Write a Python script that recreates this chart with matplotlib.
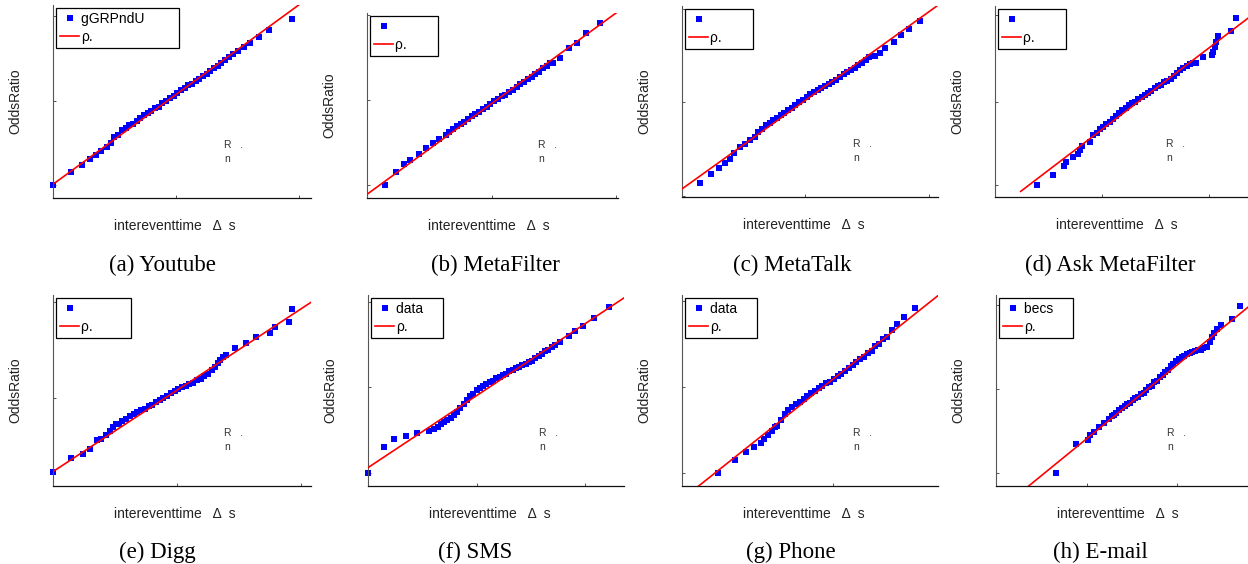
import matplotlib

matplotlib.use("Agg")
import matplotlib.pyplot as plt
from matplotlib.lines import Line2D

plt.rcParams["font.family"] = ["Liberation Sans", "DejaVu Sans"]

# ---- data: QQ points per panel (x in tick units, y in tick units) ----
qx_a = [0.0, 0.149, 0.238, 0.304, 0.352, 0.393, 0.439, 0.474,
        0.50, 0.53, 0.56, 0.59, 0.62, 0.65, 0.68, 0.71, 0.74, 0.77, 0.80,
        0.83, 0.86, 0.89, 0.92, 0.95, 0.98, 1.01, 1.04, 1.07, 1.10, 1.13,
        1.16, 1.19, 1.22, 1.25, 1.28, 1.31, 1.34, 1.37, 1.40, 1.43, 1.46,
        1.504, 1.553, 1.604, 1.675, 1.756, 1.94]
qy_a = [0.0, 0.158, 0.245, 0.312, 0.363, 0.406, 0.454, 0.50,
        0.57, 0.60, 0.65, 0.68, 0.71, 0.73, 0.76, 0.79, 0.83, 0.85, 0.88,
        0.91, 0.93, 0.97, 1.00, 1.03, 1.06, 1.09, 1.12, 1.15, 1.18, 1.20,
        1.23, 1.26, 1.29, 1.32, 1.35, 1.38, 1.41, 1.44, 1.48, 1.51, 1.55,
        1.59, 1.63, 1.68, 1.75, 1.83, 1.97]

qx_b = [0.147, 0.235, 0.297, 0.342, 0.417, 0.471, 0.529, 0.578, 0.631,
        0.66, 0.69, 0.72, 0.75, 0.78, 0.81, 0.84, 0.87, 0.90, 0.93, 0.96,
        0.99, 1.02, 1.05, 1.08, 1.11, 1.14, 1.17, 1.20, 1.23, 1.26, 1.29,
        1.32, 1.35, 1.38, 1.41, 1.44, 1.47,
        1.492, 1.545, 1.620, 1.687, 1.754, 1.866]
qy_b = [0.0, 0.149, 0.243, 0.294, 0.360, 0.43, 0.489, 0.536, 0.587,
        0.62, 0.66, 0.69, 0.71, 0.74, 0.77, 0.81, 0.83, 0.86, 0.89, 0.92,
        0.95, 0.98, 1.01, 1.04, 1.06, 1.09, 1.12, 1.15, 1.18, 1.21, 1.24,
        1.27, 1.30, 1.33, 1.37, 1.40, 1.43,
        1.429, 1.487, 1.605, 1.671, 1.781, 1.898]

qx_c = [0.149, 0.235, 0.30, 0.349, 0.386, 0.424, 0.473, 0.514, 0.554, 0.595,
        0.62, 0.65, 0.68, 0.71, 0.74, 0.77, 0.80, 0.83, 0.86, 0.89, 0.92,
        0.95, 0.98, 1.01, 1.04, 1.07, 1.10, 1.13, 1.16, 1.19, 1.22, 1.25,
        1.28, 1.31, 1.34, 1.37, 1.40, 1.43, 1.46, 1.49, 1.52,
        1.568, 1.608, 1.649, 1.716, 1.776, 1.841, 1.932]
qy_c = [0.047, 0.149, 0.22, 0.275, 0.322, 0.392, 0.463, 0.502, 0.549, 0.588,
        0.64, 0.68, 0.72, 0.75, 0.78, 0.81, 0.84, 0.87, 0.90, 0.93, 0.96,
        0.99, 1.02, 1.05, 1.09, 1.11, 1.14, 1.16, 1.18, 1.21, 1.23, 1.26,
        1.29, 1.32, 1.35, 1.37, 1.40, 1.43, 1.46, 1.49, 1.52,
        1.537, 1.576, 1.635, 1.706, 1.784, 1.855, 1.953]

qx_d = [0.393, 0.542, 0.642, 0.66, 0.729, 0.776, 0.791, 0.816, 0.885,
        0.92, 0.95, 0.98, 1.01, 1.04, 1.07, 1.10, 1.13, 1.16, 1.19, 1.22,
        1.25, 1.28, 1.31, 1.34, 1.37, 1.40, 1.43, 1.46, 1.49, 1.52, 1.55,
        1.58, 1.61, 1.64, 1.67, 1.70, 1.73, 1.76, 1.79, 1.82, 1.85,
        1.882, 1.944, 2.025, 2.037, 2.053, 2.069, 2.087, 2.202, 2.249]
qy_d = [0.008, 0.125, 0.227, 0.275, 0.333, 0.365, 0.412, 0.459, 0.51,
        0.59, 0.62, 0.66, 0.69, 0.72, 0.74, 0.78, 0.81, 0.85, 0.88, 0.91,
        0.94, 0.97, 0.98, 1.01, 1.04, 1.06, 1.09, 1.11, 1.14, 1.17, 1.18,
        1.21, 1.22, 1.25, 1.28, 1.32, 1.36, 1.38, 1.40, 1.42, 1.44,
        1.431, 1.502, 1.529, 1.569, 1.627, 1.686, 1.753, 1.816, 1.961]

qx_e = [0.0, 0.148, 0.242, 0.301, 0.355, 0.39, 0.425, 0.457, 0.484, 0.511,
        0.53, 0.56, 0.59, 0.62, 0.65, 0.68, 0.71, 0.74, 0.77, 0.80, 0.83,
        0.86, 0.89, 0.92, 0.95, 0.98, 1.01, 1.04, 1.07, 1.10, 1.13, 1.16,
        1.19, 1.22, 1.25, 1.28, 1.31,
        1.331, 1.344, 1.371, 1.398, 1.465, 1.559, 1.634, 1.747, 1.788,
        1.903, 1.930]
qy_e = [0.226, 0.372, 0.413, 0.469, 0.5625, 0.573, 0.615, 0.66, 0.701, 0.729,
        0.73, 0.76, 0.78, 0.81, 0.83, 0.85, 0.87, 0.89, 0.92, 0.93, 0.96,
        0.98, 1.00, 1.02, 1.05, 1.07, 1.09, 1.11, 1.13, 1.15, 1.16, 1.19,
        1.20, 1.23, 1.25, 1.29, 1.32,
        1.361, 1.396, 1.424, 1.448, 1.517, 1.569, 1.639, 1.681, 1.743,
        1.795, 1.924]

qx_f = [0.0, 0.150, 0.242, 0.347, 0.451, 0.558, 0.604, 0.641, 0.672, 0.702,
        0.73, 0.76, 0.79, 0.82, 0.85, 0.88, 0.91, 0.94, 0.97, 1.00, 1.03,
        1.06, 1.09, 1.12, 1.15, 1.18, 1.21, 1.24, 1.27, 1.30, 1.33, 1.36,
        1.39, 1.42, 1.45, 1.48, 1.51, 1.54, 1.57, 1.60, 1.63, 1.66, 1.69, 1.72,
        1.77, 1.847, 1.908, 1.979, 2.077, 2.215]
qy_f = [0.0, 0.311, 0.396, 0.435, 0.466, 0.493, 0.517, 0.544, 0.575, 0.602,
        0.62, 0.64, 0.68, 0.72, 0.76, 0.81, 0.85, 0.90, 0.93, 0.97, 0.99,
        1.02, 1.04, 1.06, 1.08, 1.11, 1.12, 1.15, 1.16, 1.19, 1.20, 1.23,
        1.24, 1.26, 1.27, 1.30, 1.31, 1.34, 1.37, 1.39, 1.42, 1.44, 1.47, 1.49,
        1.534, 1.60, 1.662, 1.72, 1.806, 1.934]

qx_g = [0.236, 0.349, 0.422, 0.479, 0.523, 0.541, 0.57, 0.596, 0.618,
        0.630, 0.655, 0.680, 0.705, 0.730, 0.755, 0.780, 0.805, 0.830, 0.855,
        0.880, 0.905, 0.930, 0.955, 0.980, 1.005, 1.030, 1.055, 1.080, 1.105,
        1.130, 1.155, 1.180, 1.205, 1.230, 1.255, 1.280, 1.305, 1.330, 1.355,
        1.391, 1.424, 1.468, 1.545]
qy_g = [0.0, 0.147, 0.236, 0.302, 0.349, 0.388, 0.438, 0.488, 0.535,
        0.54, 0.61, 0.68, 0.73, 0.76, 0.80, 0.82, 0.86, 0.89, 0.93,
        0.95, 0.99, 1.01, 1.04, 1.06, 1.09, 1.12, 1.15, 1.18, 1.22,
        1.25, 1.29, 1.32, 1.35, 1.39, 1.42, 1.47, 1.50, 1.55, 1.58,
        1.659, 1.725, 1.806, 1.919]

qx_h = [0.663, 0.888, 1.013, 1.042, 1.087, 1.134, 1.19, 1.245, 1.282,
        1.30, 1.33, 1.36, 1.39, 1.42, 1.45, 1.48, 1.51, 1.54, 1.57, 1.60,
        1.63, 1.66, 1.69, 1.72, 1.75, 1.78, 1.81, 1.84, 1.87, 1.90, 1.93,
        1.96, 1.99, 2.02, 2.05, 2.08, 2.11, 2.14, 2.17, 2.20, 2.23, 2.26, 2.29,
        2.331, 2.361, 2.387, 2.413, 2.442, 2.486, 2.608, 2.692]
qy_h = [0.0, 0.352, 0.392, 0.46, 0.488, 0.552, 0.6, 0.648, 0.68,
        0.69, 0.72, 0.75, 0.77, 0.80, 0.82, 0.84, 0.87, 0.89, 0.91, 0.94,
        0.96, 0.99, 1.02, 1.04, 1.08, 1.10, 1.14, 1.17, 1.20, 1.23, 1.27,
        1.30, 1.33, 1.36, 1.38, 1.40, 1.42, 1.43, 1.44, 1.45, 1.46, 1.47, 1.49,
        1.50, 1.56, 1.62, 1.668, 1.712, 1.76, 1.84, 1.992]

QX = [qx_a, qx_b, qx_c, qx_d, qx_e, qx_f, qx_g, qx_h]
QY = [qy_a, qy_b, qy_c, qy_d, qy_e, qy_f, qy_g, qy_h]

# reference (fit) line per panel
fit_slope = [1.06, 1.066, 1.041, 0.958, 0.848, 0.840, 1.397, 0.878]
fit_icpt = [0.012, -0.11, -0.027, -0.301, 0.233, 0.066, -0.309, -0.469]
fit_x0 = [0.0, 0.0, 0.0, 0.24, 0.0, 0.0, 0.11, 0.361]

captions = ["(a) Youtube", "(b) MetaFilter", "(c) MetaTalk",
            "(d) Ask MetaFilter", "(e) Digg", "(f) SMS", "(g) Phone",
            "(h) E-mail"]
data_labels = ["gGRPndU", "", "", "", "", "data", "data", "becs"]

# ---- layout (reference pixels) ----
W, H = 1248, 564
AX_LEFT = [53, 367, 682, 995, 53, 368, 682, 996]
AX_RIGHT = [311, 618, 938, 1253, 311, 624, 938, 1254]
AX_TOP = [5, 13, 6, 6, 295, 295, 295, 295]
AX_BOTTOM = [198, 198, 197, 197, 486, 486, 486, 486]
XMAX = [2.098, 2.013, 2.076, 2.41, 2.08, 2.355, 1.695, 2.85]
YLIM = [(-0.15, 2.13), (-0.153, 2.019), (-0.122, 2.125), (-0.137, 2.106),
        (0.083, 2.073), (-0.148, 2.078), (-0.155, 2.066), (-0.152, 2.12)]
XTICKS = [[0, 1, 2]] * 6 + [[0, 1], [0, 1, 2]]
YTICKS = [[0, 1, 2], [0, 1, 2], [-0.11, 0.99, 2.09], [0, 0.98, 2.0],
          [1, 2], [0, 1, 2], [0, 1, 2], [0, 1, 2]]
LEG_PAD = [8, 7, 7, 7, 9, 4, 4, 4]
CAP_X = [162, 495, 792, 1110, 157, 475, 791, 1100]
CAP_Y = [262, 262, 262, 262, 549, 549, 549, 549]

fig = plt.figure(figsize=(W / 100, H / 100), dpi=100)

for i in range(8):
    l, r, t, b = AX_LEFT[i], AX_RIGHT[i], AX_TOP[i], AX_BOTTOM[i]
    wpx, hpx = r - l, b - t
    ax = fig.add_axes([l / W, 1 - b / H, wpx / W, hpx / H])

    ax.plot(QX[i], QY[i], "s", color="#0000ff", ms=3.9, mew=0,
            clip_on=False, zorder=2)
    x0, x1 = fit_x0[i], XMAX[i]
    ax.plot([x0, x1], [fit_icpt[i] + fit_slope[i] * x0,
                       fit_icpt[i] + fit_slope[i] * x1],
            color="#ff0000", lw=1.2, zorder=3)

    ax.set_xlim(0, XMAX[i])
    ax.set_ylim(*YLIM[i])
    ax.set_xticks(XTICKS[i])
    ax.set_yticks(YTICKS[i])
    ax.tick_params(direction="in", length=2.5, width=0.7, colors="#555555",
                   labelbottom=False, labelleft=False)
    for s in ("top", "right"):
        ax.spines[s].set_visible(False)
    ax.spines["left"].set_color("#555555")
    ax.spines["left"].set_linewidth(0.8)
    ax.spines["bottom"].set_color("#111111")
    ax.spines["bottom"].set_linewidth(0.9)

    # axis labels
    ax.text(-38 / wpx, 0.5, "OddsRatio", transform=ax.transAxes,
            rotation=90, ha="center", va="center", fontsize=10,
            color="#222222")
    ax.text(122 / wpx, -28 / hpx, "intereventtime   Δ  s",
            transform=ax.transAxes, ha="center", va="center", fontsize=10,
            color="#222222")

    # stray annotation fragments
    ax.text(171 / wpx, 53 / hpx, "R   .", transform=ax.transAxes,
            ha="left", va="center", fontsize=7.5, color="#333333")
    ax.text(171 / wpx, 39 / hpx, "n", transform=ax.transAxes,
            ha="left", va="center", fontsize=7.5, color="#333333")

    # legend
    pad = " " * LEG_PAD[i]
    lab_d = data_labels[i]
    lab_r = "ρ."
    if len(lab_d) > len(lab_r):
        lab_d = lab_d + pad
    else:
        lab_r = lab_r + pad
    handles = [Line2D([], [], ls="none", marker="s", color="#0000ff",
                      ms=3.9, mew=0),
               Line2D([], [], color="#ff0000", lw=1.2)]
    leg = ax.legend(handles, [lab_d, lab_r], loc="upper left", fontsize=10,
                    borderaxespad=0.25, borderpad=0.25, handlelength=1.4,
                    handletextpad=0.15, labelspacing=0.3, numpoints=1,
                    fancybox=False, framealpha=1)
    leg.get_frame().set_edgecolor("black")
    leg.get_frame().set_linewidth(0.9)

    fig.text(CAP_X[i] / W, 1 - (CAP_Y[i] + 3) / H, captions[i], ha="center",
             va="center", fontsize=16.5, family="Liberation Serif")

fig.savefig("out.png", dpi=100, facecolor="white")
